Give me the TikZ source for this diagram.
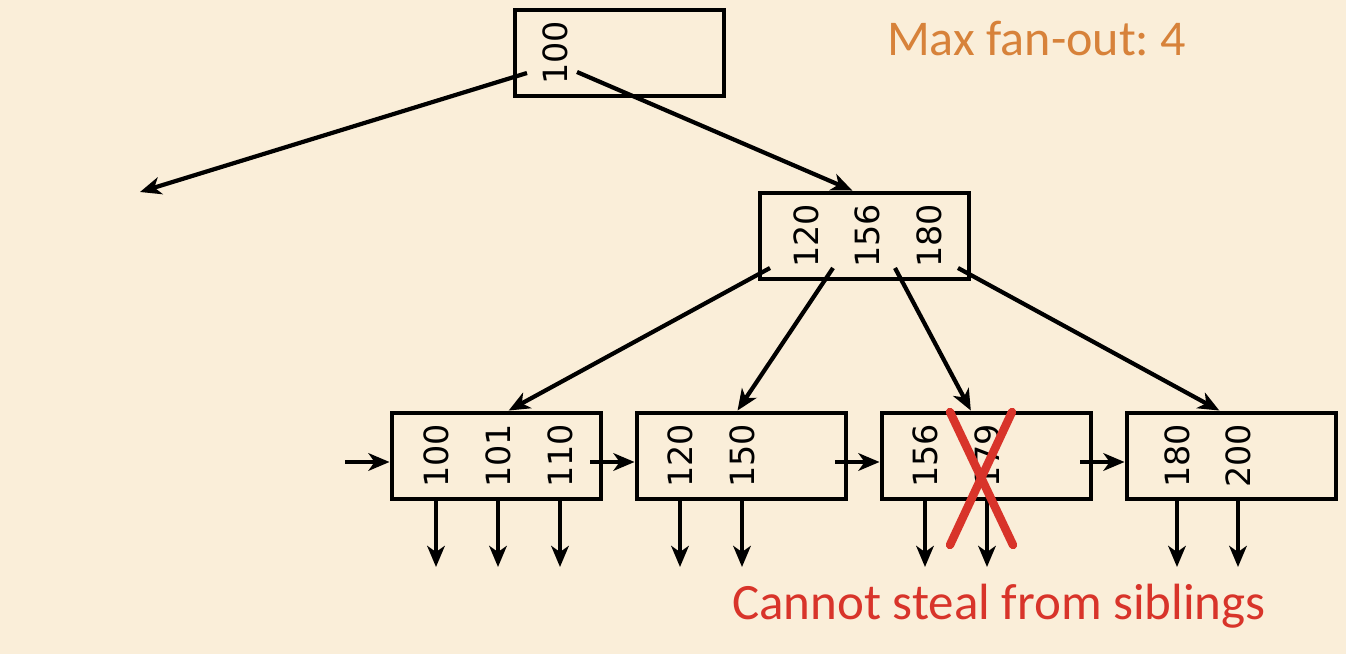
\documentclass[tikz,border=0pt]{standalone}
\usepackage{fontspec}
\setmainfont{Carlito}
\newfontfamily\keyfont{DejaVu Sans}
\usepackage{xcolor}
\usetikzlibrary{arrows.meta}
\frenchspacing

\definecolor{paper}{HTML}{FAEED9}
\definecolor{fanout}{HTML}{D7823A}
\definecolor{warn}{HTML}{D8342A}

\tikzset{
  page/.style={draw=black,line width=2.8pt,minimum width=4.18cm,minimum height=1.72cm,inner sep=0pt},
  key/.style={rotate=90,inner sep=0pt,font=\keyfont\fontsize{19}{19}\selectfont},
  ptr/.style={line width=2.4pt,-{Stealth[length=12pt,width=10pt,inset=3.5pt]}},
  cross/.style={warn,line width=4.8pt,line cap=round}
}

\begin{document}
\begin{tikzpicture}
      \useasboundingbox[fill=paper] (0,0) rectangle (26.92,-13.08);
      % pages
      \node[page] (R) at (12.39,-1.06) {};
      \node[page] (M) at (17.29,-4.72) {};
      \node[page] (L1) at (9.93,-9.12) {};
      \node[page] (L2) at (14.83,-9.12) {};
      \node[page] (L3) at (19.73,-9.12) {};
      \node[page] (L4) at (24.63,-9.12) {};
      % keys
      \node[key] (r1) at (11.10,-1.06) {100};
      \node[key] (m1) at (16.12,-4.72) {120};
      \node[key] (m2) at (17.34,-4.72) {156};
      \node[key] (m3) at (18.58,-4.72) {180};
      \node[key] (k11) at (8.72,-9.12) {100};
      \node[key] (k12) at (9.96,-9.12) {101};
      \node[key] (k13) at (11.20,-9.12) {110};
      \node[key] (k21) at (13.60,-9.12) {120};
      \node[key] (k22) at (14.84,-9.12) {150};
      \node[key] (k31) at (18.50,-9.12) {156};
      \node[key] (k32) at (19.74,-9.12) {179};
      \node[key] (k41) at (23.54,-9.12) {180};
      \node[key] (k42) at (24.76,-9.12) {200};
      % pointer starts and free ends
      \coordinate (p0) at (10.54,-1.46);
      \coordinate (p1) at (11.54,-1.44);
      \coordinate (far) at (2.80,-3.84);
      \coordinate (q0) at (15.40,-5.36);
      \coordinate (q1) at (16.66,-5.36);
      \coordinate (q2) at (17.90,-5.36);
      \coordinate (q3) at (19.16,-5.36);
      \coordinate (c0) at (6.90,-9.24);
      \coordinate (c1) at (11.80,-9.24);
      \coordinate (c2) at (16.70,-9.24);
      \coordinate (c3) at (21.60,-9.24);
      \coordinate (dn) at (0,-11.34);
      \draw[ptr] (p0) -- (far);
      \draw[ptr] (p1) -- (M.105);
      \draw[ptr] (q0) -- (L1.75);
      \draw[ptr] (q1) -- (L2.95);
      \draw[ptr] (q2) -- (L3.109);
      \draw[ptr] (q3) -- (L4.105);
      \draw[ptr] (c0) -- (c0 -| L1.west);
      \draw[ptr] (c1) -- (c1 -| L2.west);
      \draw[ptr] (c2) -- (c2 -| L3.west);
      \draw[ptr] (c3) -- (c3 -| L4.west);
      \draw[ptr] (k11 |- L1.south) -- (k11 |- dn);
      \draw[ptr] (k12 |- L1.south) -- (k12 |- dn);
      \draw[ptr] (k13 |- L1.south) -- (k13 |- dn);
      \draw[ptr] (k21 |- L2.south) -- (k21 |- dn);
      \draw[ptr] (k22 |- L2.south) -- (k22 |- dn);
      \draw[ptr] (k31 |- L3.south) -- (k31 |- dn);
      \draw[ptr] (k32 |- L3.south) -- (k32 |- dn);
      \draw[ptr] (k41 |- L4.south) -- (k41 |- dn);
      \draw[ptr] (k42 |- L4.south) -- (k42 |- dn);
      % deleted key
      \draw[cross] (19.00,-8.24) -- (20.26,-10.90);
      \draw[cross] (20.24,-8.24) -- (19.00,-10.90);
      % notes
      \node[fanout,font=\fontsize{28.5}{28.5}\selectfont] (fan) at (20.73,-0.78) {Max fan-out: 4};
      \node[warn,font=\fontsize{29}{29}\selectfont] (note) at (19.98,-12.12) {Cannot steal from siblings};
\end{tikzpicture}
\end{document}
